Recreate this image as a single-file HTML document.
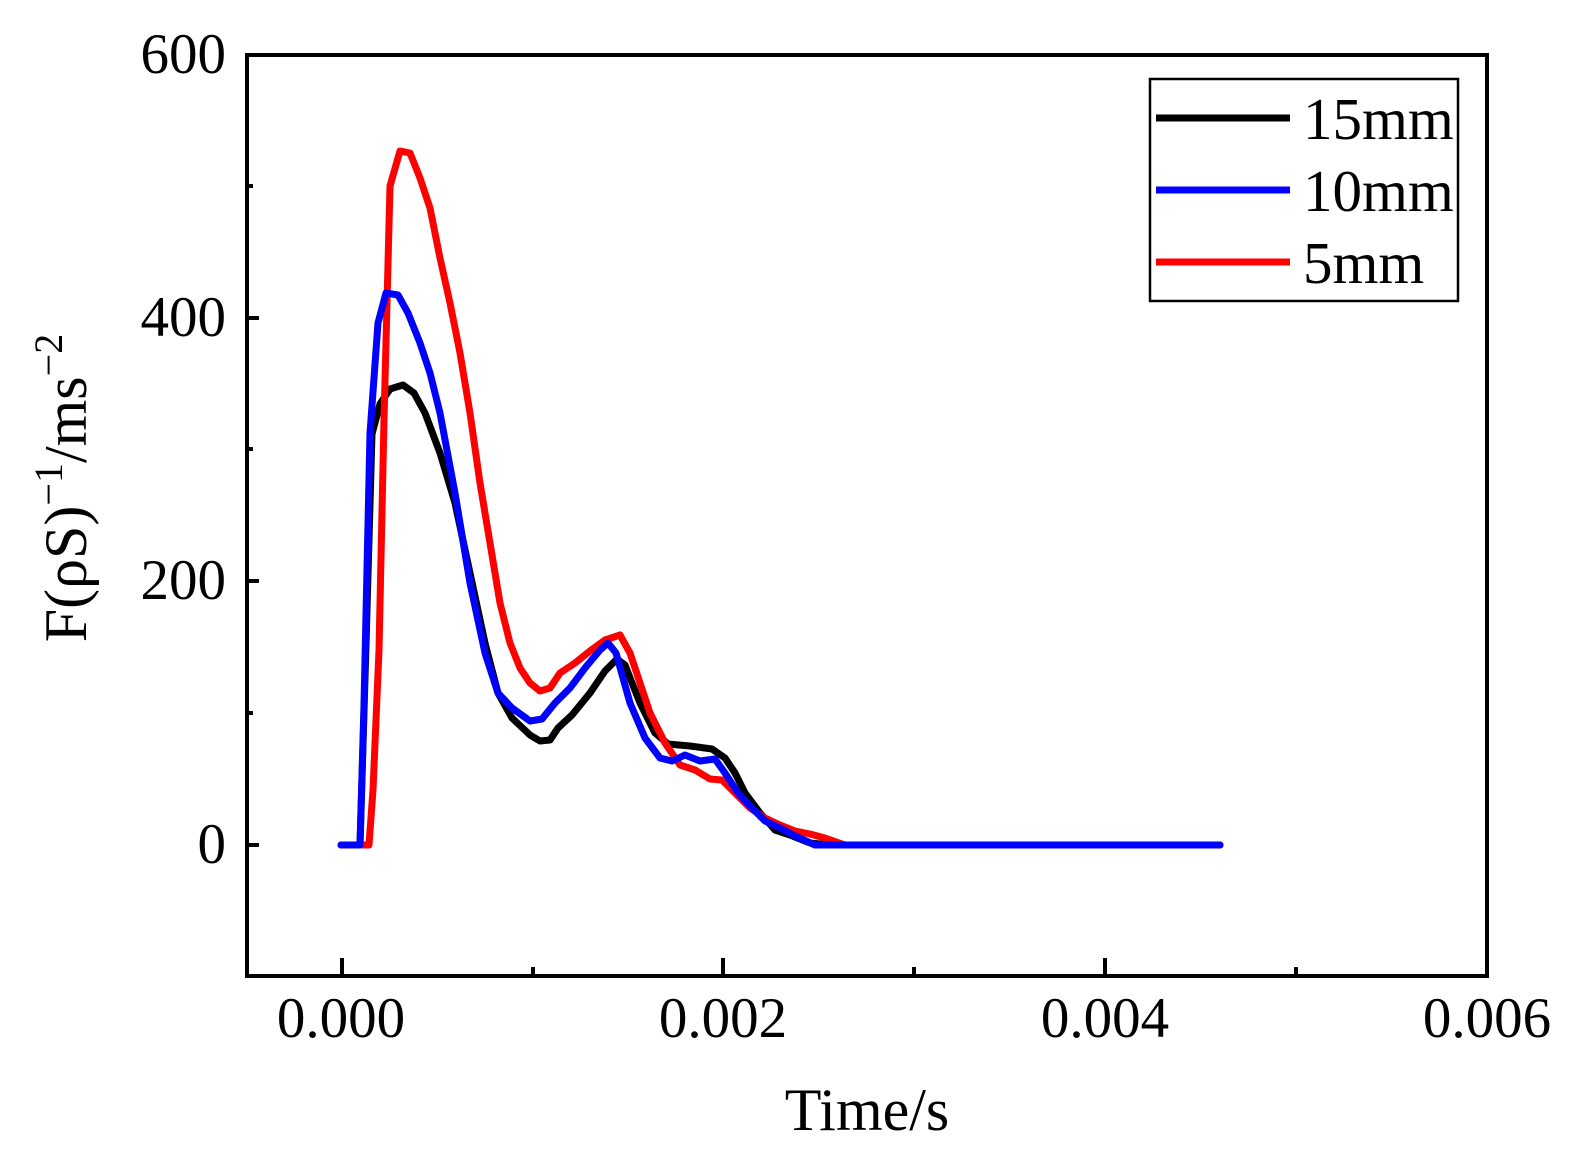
<!DOCTYPE html>
<html><head><meta charset="utf-8"><style>
html,body{margin:0;padding:0;background:#fff;}
svg text{font-family:"Liberation Serif",serif;fill:#000;}
</style></head><body>
<svg width="1577" height="1165" xmlns="http://www.w3.org/2000/svg">
<rect x="0" y="0" width="1577" height="1165" fill="#fff"/>
<g stroke="#000" stroke-width="4" fill="none">
<rect x="247" y="55" width="1240" height="921"/>
<line x1="247" y1="845" x2="259" y2="845"/>
<line x1="247" y1="581" x2="259" y2="581"/>
<line x1="247" y1="318" x2="259" y2="318"/>
<line x1="247" y1="713" x2="253" y2="713"/>
<line x1="247" y1="449" x2="253" y2="449"/>
<line x1="247" y1="186" x2="253" y2="186"/>
<line x1="342" y1="976" x2="342" y2="958"/>
<line x1="723" y1="976" x2="723" y2="958"/>
<line x1="1105" y1="976" x2="1105" y2="958"/>
<line x1="533" y1="976" x2="533" y2="967"/>
<line x1="914" y1="976" x2="914" y2="967"/>
<line x1="1296" y1="976" x2="1296" y2="967"/>
</g>
<g font-size="57" text-anchor="end">
<text x="226" y="863">0</text>
<text x="226" y="599">200</text>
<text x="226" y="336">400</text>
<text x="226" y="73">600</text>
</g>
<g font-size="57" text-anchor="middle">
<text x="341" y="1037">0.000</text>
<text x="723" y="1037">0.002</text>
<text x="1105" y="1037">0.004</text>
<text x="1487" y="1037">0.006</text>
</g>
<text x="867" y="1130" font-size="60" text-anchor="middle">Time/s</text>
<text transform="translate(86,488) rotate(-90)" font-size="60" text-anchor="middle">F(ρS)<tspan dy="-24" font-size="40">−1</tspan><tspan dy="24">/ms</tspan><tspan dy="-24" font-size="40">−2</tspan></text>
<g fill="none" stroke-width="7" stroke-linejoin="round" stroke-linecap="round">
<polyline stroke="#000" points="341,845 360,845 366,645 372,434 380,404 390,389 403,385 414,393 425,413 440,453 455,503 470,573 485,643 498,693 512,718 530,735 540,741 550,740 558,728 572,715 590,693 605,671 617,659 625,665 640,703 655,733 668,744 690,746 712,749 725,758 735,773 745,793 760,813 775,830 790,835 810,843 830,845 1220,845"/>
<polyline stroke="#ff0000" points="341,845 369,845 373,790 379,650 384,420 390,186 400,151 410,153 420,178 430,208 440,258 450,303 460,353 470,413 480,483 490,543 500,603 510,643 520,668 530,683 540,691 550,688 560,673 575,663 590,651 605,640 620,635 630,653 640,683 650,713 665,743 680,765 695,770 710,779 722,780 735,793 750,808 765,818 780,825 795,831 810,834 825,838 845,845 1220,845"/>
<polyline stroke="#0000ff" points="341,845 360,845 364,705 370,433 378,323 386,293 398,295 408,313 420,343 430,373 440,413 455,493 470,583 485,653 498,693 512,708 530,721 542,719 555,703 570,688 585,668 600,650 608,643 616,653 630,703 645,738 660,758 672,761 685,755 700,761 715,759 725,773 738,793 752,808 765,821 780,828 795,836 815,845 1220,845"/>
</g>
<rect x="1150" y="79" width="308" height="222" fill="#fff" stroke="#000" stroke-width="2.5"/>
<g stroke-width="7">
<line x1="1156" y1="118" x2="1290" y2="118" stroke="#000"/>
<line x1="1156" y1="190" x2="1290" y2="190" stroke="#0000ff"/>
<line x1="1156" y1="262" x2="1290" y2="262" stroke="#ff0000"/>
</g>
<g font-size="59">
<text x="1303" y="139">15mm</text>
<text x="1303" y="211">10mm</text>
<text x="1303" y="283">5mm</text>
</g>
</svg>
</body></html>
